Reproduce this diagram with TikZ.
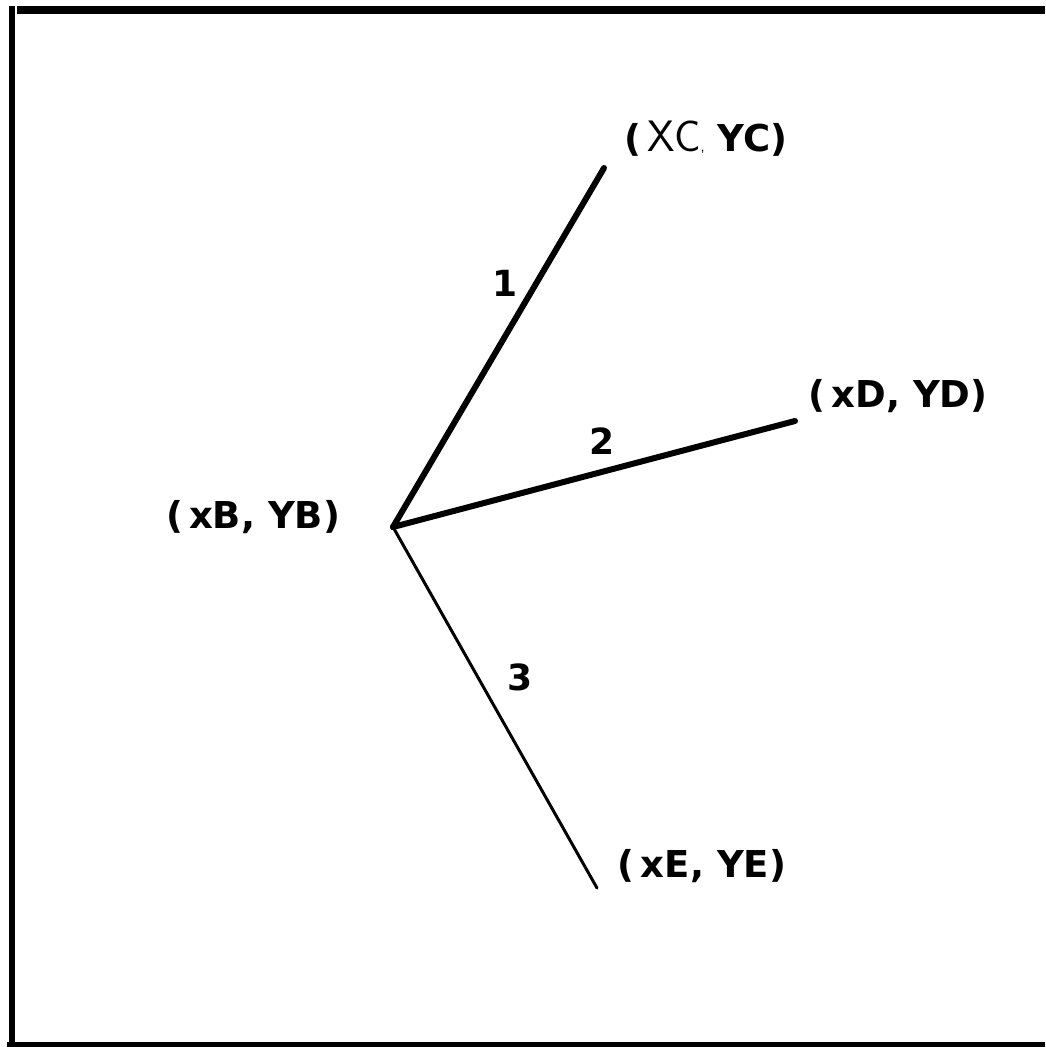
\documentclass[tikz,border=0pt]{standalone}
\usepackage{fontspec}
\setmainfont{DejaVu Sans}
\begin{document}
\begin{tikzpicture}[x=1pt,y=-1pt,
  lbl/.style={font=\fontsize{37}{37}\selectfont\bfseries, inner sep=0pt, anchor=center},
  num/.style={font=\fontsize{36}{36}\selectfont\bfseries, inner sep=0pt, anchor=center},
  thickline/.style={line width=6pt, line cap=round},
  thinline/.style={line width=3pt, line cap=round},
  frame/.style={line width=6pt}]
\useasboundingbox (0,0) rectangle (1045,1047);
% frame
\draw[frame] (12,6) -- (12,1047);
\draw[line width=8pt] (17,10) -- (1045,10);
\draw[line width=6pt] (7,1045) -- (1045,1045);
% points
\coordinate (B) at (393,527);
\coordinate (C) at (604,168);
\coordinate (D) at (795,421);
\coordinate (E) at (597,888);
% segments
\draw[thickline] (B) -- (C);
\draw[thickline] (B) -- (D);
\draw[thinline] (B) -- (E);
% labels
\node[lbl] (lc) at (706,139) {(\,{\mdseries\sffamily\fontsize{44}{44}\selectfont XC{\fontsize{16}{16}\selectfont,}}\ YC)};
\node[lbl] (ld) at (898,396) {(\,xD,\ YD)};
\node[lbl] (lb) at (253,517) {(\,xB,\ YB)};
\node[lbl] (le) at (702,866) {(\,xE,\ YE)};
\node[num] (n1) at (505,283) {1};
\node[num] (n2) at (602,441) {2};
\node[num] (n3) at (520,677) {3};
\end{tikzpicture}
\end{document}
